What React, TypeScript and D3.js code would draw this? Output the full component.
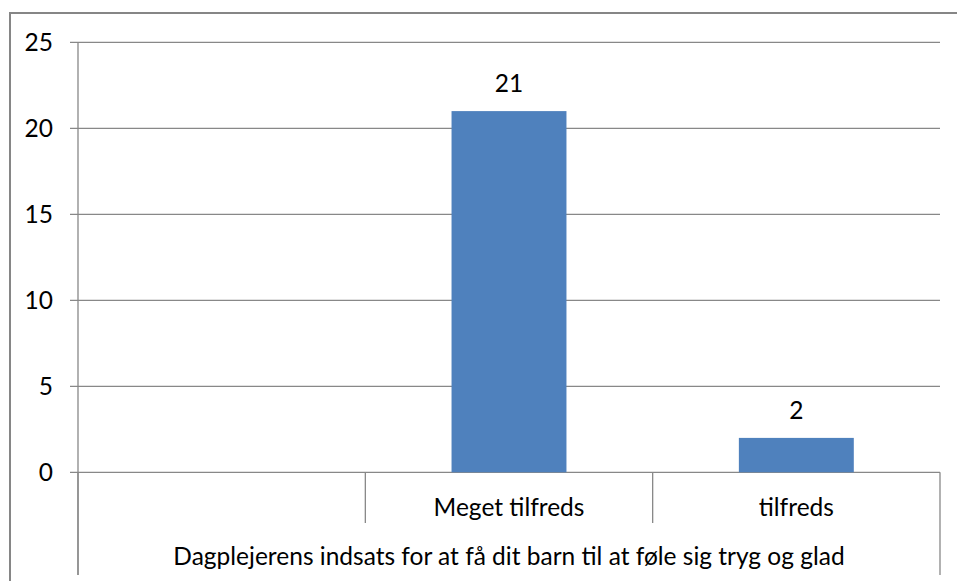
import { useEffect, useRef } from "react";
import * as d3 from "d3";

const categories = ["", "Meget tilfreds", "tilfreds"];
const values: (number | null)[] = [null, 21, 2];
const groupLabel = "Dagplejerens indsats for at få dit barn til at føle sig tryg og glad";
const yTicks = [0, 5, 10, 15, 20, 25];

export default function App() {
  const svgRef = useRef<SVGSVGElement>(null);

  useEffect(() => {
    if (!svgRef.current) return;
    const svg = d3.select(svgRef.current).select<SVGGElement>("g.chart");
    svg.selectAll("*").remove();

    const font = "Lato, 'Open Sans', sans-serif";
    const fs = 24.5;
    const grid = "#888888";

    const left = 78, right = 940, top = 42.3, zero = 472.3;
    const x = d3.scaleBand().domain(categories.map((_, i) => String(i))).range([left, right]).padding(0);
    const y = d3.scaleLinear().domain([0, 25]).range([zero, top]);

    // gridlines + y ticks
    yTicks.forEach((t) => {
      svg.append("line")
        .attr("x1", left - 8).attr("x2", right)
        .attr("y1", y(t)).attr("y2", y(t))
        .attr("stroke", grid).attr("stroke-width", 1.3);
      svg.append("text")
        .attr("x", 53).attr("y", y(t))
        .attr("dy", "0.36em")
        .attr("text-anchor", "end")
        .attr("font-family", font).attr("font-size", fs)
        .attr("fill", "#000")
        .text(t);
    });

    // left axis, extends down to the group label row
    svg.append("line")
      .attr("x1", left).attr("x2", left)
      .attr("y1", top).attr("y2", 575)
      .attr("stroke", grid).attr("stroke-width", 1.3);

    // category separators
    const bounds = categories.map((_, i) => x(String(i))!).concat([right]);
    bounds.forEach((b, i) => {
      const outer = i === 0 || i === bounds.length - 1;
      svg.append("line")
        .attr("x1", b).attr("x2", b)
        .attr("y1", zero).attr("y2", outer ? 575 : 523)
        .attr("stroke", grid).attr("stroke-width", 1.3);
    });

    // bars
    const bw = x.bandwidth() * 0.4;
    categories.forEach((c, i) => {
      const v = values[i];
      const cx = x(String(i))! + x.bandwidth() / 2;
      if (v !== null) {
        svg.append("rect")
          .attr("x", cx - bw / 2).attr("y", y(v))
          .attr("width", bw).attr("height", zero - y(v))
          .attr("fill", "#4F81BD");
        svg.append("text")
          .attr("x", cx).attr("y", y(v) - 19)
          .attr("text-anchor", "middle")
          .attr("font-family", font).attr("font-size", fs)
          .text(v);
      }
      if (c) {
        svg.append("text")
          .attr("x", cx).attr("y", 516)
          .attr("text-anchor", "middle")
          .attr("font-family", font).attr("font-size", fs)
          .text(c);
      }
    });

    svg.append("text")
      .attr("x", (left + right) / 2).attr("y", 565)
      .attr("text-anchor", "middle")
      .attr("font-family", font).attr("font-size", fs)
      .text(groupLabel);
  }, []);

  return (
    <>
      <style>{"body{margin:0}"}</style>
      <svg ref={svgRef} width={957} height={581} style={{ display: "block", background: "#fff" }}>
        {/* outer frame, cut off at the right and bottom like the source */}
        <path d="M10,600 L10,13 L960,13" fill="none" stroke="#868686" strokeWidth={2} />
        <g className="chart" />
      </svg>
    </>
  );
}
